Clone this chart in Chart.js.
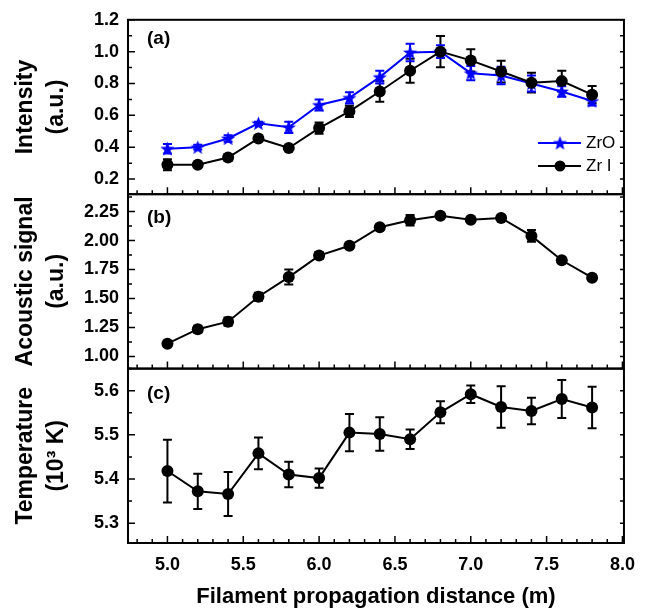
<!DOCTYPE html>
<html>
<head>
<meta charset="utf-8">
<script src="https://cdn.jsdelivr.net/npm/chart.js@4.4.0/dist/chart.umd.min.js"></script>
<style>
  html, body { margin: 0; padding: 0; background: #fff; }
  #wrap { width: 646px; height: 613px; }
</style>
</head>
<body>
<div id="wrap"><canvas id="chart" width="646" height="613"></canvas></div>
<script>
/* ===== Data ===== */
const distances = [5.0, 5.2, 5.4, 5.6, 5.8, 6.0, 6.2, 6.4, 6.6, 6.8, 7.0, 7.2, 7.4, 7.6, 7.8];

const zroIntensity = [0.39, 0.40, 0.455, 0.55, 0.525, 0.665, 0.71, 0.84, 0.995, 1.0, 0.865, 0.85, 0.80, 0.75, 0.69];
const zroErr       = [0.03, 0.015, 0.02, 0.01, 0.035, 0.035, 0.035, 0.04, 0.055, 0.04, 0.045, 0.055, 0.05, 0.033, 0.028];

const zrIntensity  = [0.29, 0.29, 0.335, 0.455, 0.395, 0.52, 0.625, 0.75, 0.88, 1.0, 0.945, 0.875, 0.805, 0.815, 0.73];
const zrErr        = [0.035, 0.01, 0.02, 0.01, 0.01, 0.035, 0.035, 0.065, 0.075, 0.098, 0.07, 0.068, 0.062, 0.065, 0.054];

const acoustic     = [1.11, 1.235, 1.30, 1.515, 1.685, 1.87, 1.955, 2.115, 2.175, 2.215, 2.18, 2.195, 2.04, 1.83, 1.68];
const acousticErr  = [0.01, 0.03, 0.035, 0.035, 0.065, 0.03, 0.025, 0.015, 0.045, 0.02, 0.015, 0.015, 0.05, 0.01, 0.02];

const temperature  = [5.418, 5.372, 5.366, 5.458, 5.410, 5.402, 5.505, 5.502, 5.490, 5.551, 5.592, 5.563, 5.554, 5.581, 5.562];
const tempErr      = [0.071, 0.04, 0.05, 0.036, 0.029, 0.022, 0.042, 0.038, 0.022, 0.025, 0.02, 0.047, 0.03, 0.043, 0.047];

const xTicks     = [5.0, 5.5, 6.0, 6.5, 7.0, 7.5, 8.0];
const yTicksA    = [0.2, 0.4, 0.6, 0.8, 1.0, 1.2];
const yTicksB    = [1.00, 1.25, 1.50, 1.75, 2.00, 2.25];
const yTicksC    = [5.3, 5.4, 5.5, 5.6];

const BLUE = "rgb(0,0,255)";
const FONT = "'Liberation Sans', Arial, Helvetica, sans-serif";

/* ===== Helpers ===== */
const pts = (vals) => vals.map((v, i) => ({ x: distances[i], y: v }));

// filled five-point star marker
function makeStar(color, r){
  const c = document.createElement("canvas");
  const s = Math.ceil(r * 2 + 2);
  c.width = s; c.height = s;
  const g = c.getContext("2d");
  g.fillStyle = color;
  g.beginPath();
  for(let k = 0; k < 10; k++){
    const rr = k % 2 === 0 ? r : r * 0.42;
    const a = -Math.PI / 2 + k * Math.PI / 5;
    const px = s / 2 + rr * Math.cos(a), py = s / 2 + rr * Math.sin(a) + 0.6;
    k === 0 ? g.moveTo(px, py) : g.lineTo(px, py);
  }
  g.closePath(); g.fill();
  return c;
}
const starImg = makeStar(BLUE, 7.5);

function panelScale(min, max, ticks, digits, title, weight){
  return {
    type: "linear", position: "left", stack: "panels", stackWeight: 1, weight,
    min, max,
    afterBuildTicks: s => { s.ticks = ticks.map(v => ({ value: v })); },
    afterFit: s => { s.width = 128; },
    grid: { display: false, drawTicks: false },
    border: { display: false },
    ticks: { autoSkip: false, padding: 9, color: "#000",
             font: { size: 18, weight: "bold" },
             callback: v => Number(v).toFixed(digits) },
    title: { display: true, text: title, color: "#000",
             font: { size: 23, weight: "bold", lineHeight: 1.35 },
             padding: { top: 10, bottom: 0 } }
  };
}

/* ===== Frames, inward ticks, error bars, labels, legend ===== */
const panelDeco = {
  id: "panelDeco",
  beforeDatasetsDraw(chart){
    const ctx = chart.ctx;
    chart.data.datasets.forEach((ds, i) => {
      const ys = chart.scales[ds.yAxisID];
      const xs = chart.scales.x;
      ctx.save();
      ctx.strokeStyle = ds.errColor;
      ctx.lineWidth = 2;
      ds.data.forEach((p, j) => {
        const e = ds.errors[j];
        const x = xs.getPixelForValue(p.x);
        const y1 = ys.getPixelForValue(p.y + e), y2 = ys.getPixelForValue(p.y - e);
        ctx.beginPath();
        ctx.moveTo(x, y1); ctx.lineTo(x, y2);
        ctx.moveTo(x - 4.5, y1); ctx.lineTo(x + 4.5, y1);
        ctx.moveTo(x - 4.5, y2); ctx.lineTo(x + 4.5, y2);
        ctx.stroke();
      });
      ctx.restore();
    });
  },
  afterDraw(chart){
    const ctx = chart.ctx, ca = chart.chartArea, xs = chart.scales.x;
    const panels = [
      { s: chart.scales.yA, ticks: yTicksA, label: "(a)", ly: 39 },
      { s: chart.scales.yB, ticks: yTicksB, label: "(b)", ly: 218 },
      { s: chart.scales.yC, ticks: yTicksC, label: "(c)", ly: 394 }
    ];
    ctx.save();
    ctx.strokeStyle = "#000";
    panels.forEach(p => {
      const s = p.s;
      // inward x ticks along bottom of each panel
      ctx.lineWidth = 1.5;
      ctx.beginPath();
      for(let i = 48; i <= 80; i++){
        const x = xs.getPixelForValue(i / 10);
        const len = i % 5 === 0 ? 7 : 4;
        ctx.moveTo(x, s.bottom); ctx.lineTo(x, s.bottom - len);
      }
      // inward y ticks (major + midpoint minor), left and right
      const step = p.ticks[1] - p.ticks[0];
      const vals = [];
      p.ticks.forEach(v => { vals.push([v, 7]); vals.push([v + step / 2, 4]); vals.push([v - step / 2, 4]); });
      vals.forEach(([v, len]) => {
        if(v < s.min || v > s.max) return;
        const y = s.getPixelForValue(v);
        ctx.moveTo(ca.left, y); ctx.lineTo(ca.left + len, y);
        ctx.moveTo(ca.right, y); ctx.lineTo(ca.right - Math.min(len, 4), y);
      });
      ctx.stroke();
      // frame
      ctx.lineWidth = 2;
      ctx.strokeRect(ca.left, s.top, ca.right - ca.left, s.bottom - s.top);
      // panel label
      ctx.fillStyle = "#000";
      ctx.font = "bold 19px " + FONT;
      ctx.textBaseline = "middle";
      ctx.textAlign = "left";
      ctx.fillText(p.label, 147, p.ly);
    });

    // legend
    const legend = [
      { text: "ZrO",  color: BLUE,   y: 143, star: true },
      { text: "Zr I", color: "#000", y: 166, star: false }
    ];
    legend.forEach(l => {
      ctx.strokeStyle = l.color; ctx.lineWidth = 2;
      ctx.beginPath(); ctx.moveTo(538, l.y); ctx.lineTo(581, l.y); ctx.stroke();
      if(l.star){
        ctx.drawImage(starImg, 560 - starImg.width / 2, l.y - starImg.height / 2);
      } else {
        ctx.fillStyle = "#000";
        ctx.beginPath(); ctx.arc(560, l.y, 5.5, 0, Math.PI * 2); ctx.fill();
      }
      ctx.fillStyle = "#000";
      ctx.font = "17px " + FONT;
      ctx.textAlign = "left"; ctx.textBaseline = "middle";
      ctx.fillText(l.text, 586, l.y);
    });
    ctx.restore();
  }
};

/* ===== Chart ===== */
Chart.defaults.font.family = FONT;
Chart.defaults.color = "#000";

function initChart(){
  const lineDs = (label, vals, errs, axis, color, style, radius) => ({
    label, data: pts(vals), errors: errs, errColor: color, yAxisID: axis,
    borderColor: color, backgroundColor: color, borderWidth: 2,
    pointStyle: style, pointRadius: radius, pointBorderWidth: 0,
    pointBackgroundColor: color, tension: 0, clip: false
  });

  new Chart(document.getElementById("chart"), {
    type: "line",
    data: {
      datasets: [
        lineDs("Zr I", zrIntensity, zrErr, "yA", "#000", "circle", 6),
        lineDs("ZrO", zroIntensity, zroErr, "yA", BLUE, starImg, 7.5),
        lineDs("Acoustic", acoustic, acousticErr, "yB", "#000", "circle", 6),
        lineDs("Temperature", temperature, tempErr, "yC", "#000", "circle", 6)
      ]
    },
    options: {
      responsive: false,
      animation: false,
      devicePixelRatio: 1,
      layout: { padding: { top: 16, right: 16, left: 0, bottom: 0 } },
      plugins: { legend: { display: false }, tooltip: { enabled: false } },
      scales: {
        x: {
          type: "linear", min: 4.74, max: 8.01,
          afterBuildTicks: s => { s.ticks = xTicks.map(v => ({ value: v })); },
          afterFit: s => { s.height = 70; },
          grid: { display: false, drawTicks: false },
          border: { display: false },
          ticks: { autoSkip: false, maxRotation: 0, padding: 11, color: "#000",
                   font: { size: 18, weight: "bold" },
                   callback: v => Number(v).toFixed(1) },
          title: { display: true, text: "Filament propagation distance (m)", color: "#000",
                   font: { size: 22, weight: "bold", lineHeight: 1.2 },
                   padding: { top: 0, bottom: 3 } }
        },
        yA: panelScale(0.105, 1.2, yTicksA, 1, ["Intensity", "(a.u.)"], 3),
        yB: panelScale(0.895, 2.4, yTicksB, 2, ["Acoustic signal", "(a.u.)"], 2),
        yC: panelScale(5.255, 5.65, yTicksC, 1, ["Temperature", "(10\u00B3 K)"], 1)
      }
    },
    plugins: [panelDeco]
  });
}

window.addEventListener("DOMContentLoaded", initChart);
</script>
</body>
</html>
